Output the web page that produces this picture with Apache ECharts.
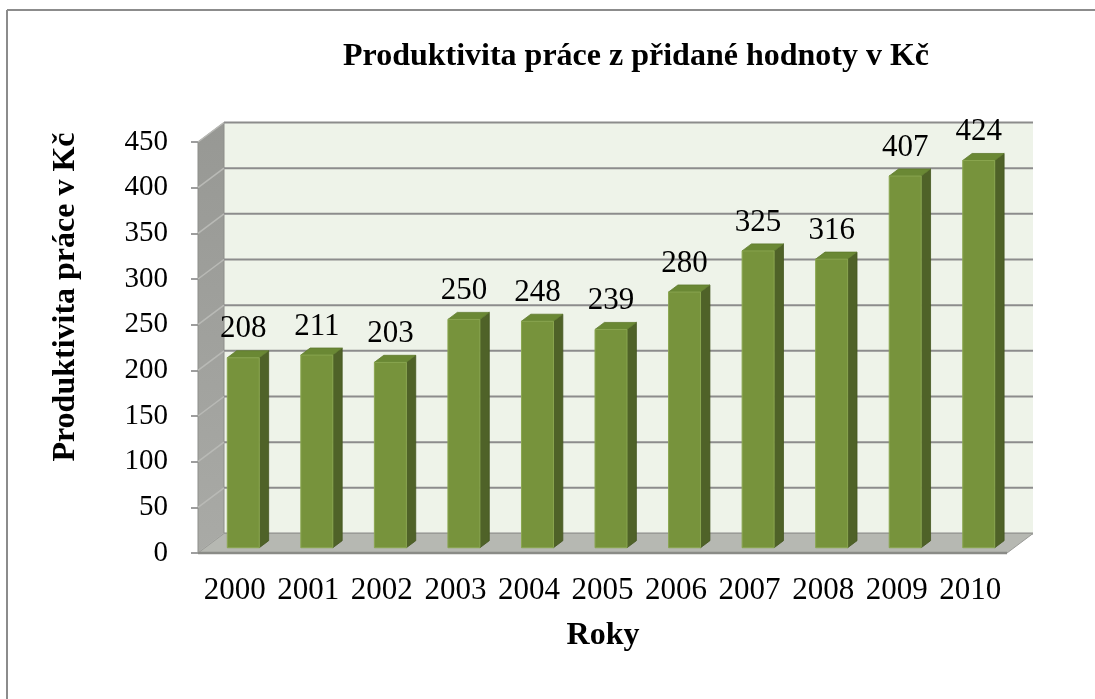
<!DOCTYPE html>
<html>
<head>
<meta charset="utf-8">
<script src="https://cdn.jsdelivr.net/npm/echarts@6/dist/echarts.min.js"></script>
<style>
html,body{margin:0;padding:0;background:#fff;}
#chart{width:1095px;height:699px;}
</style>
</head>
<body>
<div id="chart"></div>
<script>
const years = ['2000','2001','2002','2003','2004','2005','2006','2007','2008','2009','2010'];
const values = [208, 211, 203, 250, 248, 239, 280, 325, 316, 407, 424];
const yTicks = [0, 50, 100, 150, 200, 250, 300, 350, 400, 450];
const titleText = 'Produktivita práce z přidané hodnoty v Kč';
const yName = 'Produktivita práce v Kč';
const xName = 'Roky';

const FONT = '"Liberation Serif","Times New Roman",serif';
const DX = 26, DY = -19.5;          // depth vector of the 3D box
const BAR_F = 0.27, BAR_B = 0.63;   // bar depth fractions
const BAR_SHIFT = 1.5;

const chart = echarts.init(document.getElementById('chart'), null, {renderer:'canvas'});

function wallsRender(params, api) {
  const cs = params.coordSys;
  const x0 = cs.x, x1 = cs.x + cs.width;
  const yTop = api.coord([0, yTicks[yTicks.length-1]])[1];
  const yBot = api.coord([0, 0])[1];
  const children = [];
  // back wall
  children.push({type:'polygon', shape:{points:[[x0+DX,yTop+DY],[x1+DX,yTop+DY],[x1+DX,yBot+DY],[x0+DX,yBot+DY]]},
    style:{fill:'#eef3e9', stroke:null}});
  // side wall
  children.push({type:'polygon', shape:{points:[[x0,yTop],[x0+DX,yTop+DY],[x0+DX,yBot+DY],[x0,yBot]]},
    style:{fill:new echarts.graphic.LinearGradient(0,0,0,1,[{offset:0,color:'#979894'},{offset:1,color:'#a9aaa6'}]), stroke:'#8d8e8a', lineWidth:1}});
  // gridlines
  yTicks.forEach(t => {
    const y = api.coord([0, t])[1];
    children.push({type:'line', shape:{x1:x0+DX, y1:y+DY, x2:x1+DX, y2:y+DY}, style:{stroke:'#8c8c8c', lineWidth:2}});
    children.push({type:'line', shape:{x1:x0, y1:y, x2:x0+DX, y2:y+DY}, style:{stroke:'#b9bab6', lineWidth:1.5}});
  });
  // floor
  children.push({type:'polygon', shape:{points:[[x0,yBot],[x0+DX,yBot+DY],[x1+DX,yBot+DY],[x1,yBot]]},
    style:{fill:'#b6b8b2', stroke:'#9a9b97', lineWidth:1}});
  children.push({type:'line', shape:{x1:x0, y1:yBot, x2:x1, y2:yBot}, style:{stroke:'#8a8b87', lineWidth:2.5}});
  return {type:'group', children};
}

function barRender(params, api) {
  const i = api.value(0), v = api.value(1);
  const top = api.coord([i, v]);
  const base = api.coord([i, 0]);
  const bw = api.size([1, 0])[0] * 0.435;
  const fx = top[0] - bw/2 + DX*BAR_F + BAR_SHIFT;
  const fyT = top[1] + DY*BAR_F, fyB = base[1] + DY*BAR_F;
  const sdx = DX*(BAR_B-BAR_F), sdy = DY*(BAR_B-BAR_F);
  return {type:'group', children:[
    {type:'polygon', shape:{points:[[fx+bw,fyT],[fx+bw+sdx,fyT+sdy],[fx+bw+sdx,fyB+sdy],[fx+bw,fyB]]},
      style:{fill:'#4f6228', stroke:'#44561f', lineWidth:0.8}},
    {type:'polygon', shape:{points:[[fx,fyT],[fx+sdx,fyT+sdy],[fx+bw+sdx,fyT+sdy],[fx+bw,fyT]]},
      style:{fill:'#6a8834', stroke:'#5e7a2d', lineWidth:0.8}},
    {type:'rect', shape:{x:fx, y:fyT, width:bw, height:fyB-fyT},
      style:{fill:'#77933c', stroke:'#8aa650', lineWidth:1}},
    {type:'text', x:fx+bw/2, y:fyT+sdy-21.5,
      style:{text:String(v), font:'31px '+FONT, fill:'#000', align:'center', verticalAlign:'middle'}}
  ]};
}

chart.setOption({
  animation:false,
  backgroundColor:'#ffffff',
  grid:{left:198, top:142, width:809, height:411, containLabel:false, outerBoundsMode:'none'},
  xAxis:{type:'category', data:years, boundaryGap:true,
    axisLine:{show:false}, axisTick:{show:false}, splitLine:{show:false},
    axisLabel:{fontFamily:FONT, fontSize:31, color:'#000', margin:22, interval:0}},
  yAxis:{type:'value', min:0, max:450, interval:50,
    axisLine:{show:true, lineStyle:{color:'#8c8c8c', width:1}},
    axisTick:{show:true, length:7, lineStyle:{color:'#7f7f7f', width:1.5}},
    splitLine:{show:false},
    axisLabel:{fontFamily:FONT, fontSize:29, color:'#000', margin:30}},
  graphic:[
    {type:'line', shape:{x1:7, y1:10, x2:1095, y2:10}, style:{stroke:'#8c8c8c', lineWidth:2}},
    {type:'line', shape:{x1:7, y1:10, x2:7, y2:699}, style:{stroke:'#8c8c8c', lineWidth:2}},
    {type:'text', x:636, y:57, style:{text:titleText, font:'bold 32px '+FONT, fill:'#000', align:'center', verticalAlign:'middle'}},
    {type:'text', x:66, y:297, rotation:Math.PI/2, style:{text:yName, font:'bold 32px '+FONT, fill:'#000', align:'center', verticalAlign:'middle'}},
    {type:'text', x:603, y:636, style:{text:xName, font:'bold 32px '+FONT, fill:'#000', align:'center', verticalAlign:'middle'}}
  ],
  series:[
    {type:'custom', name:'walls', renderItem:wallsRender, data:[[0,0]], z:1, silent:true, clip:false},
    {type:'custom', name:'Produktivita', renderItem:barRender, data:values.map((v,i)=>[i,v]),
      encode:{x:0, y:1}, z:2, clip:false}
  ]
});
</script>
</body>
</html>
